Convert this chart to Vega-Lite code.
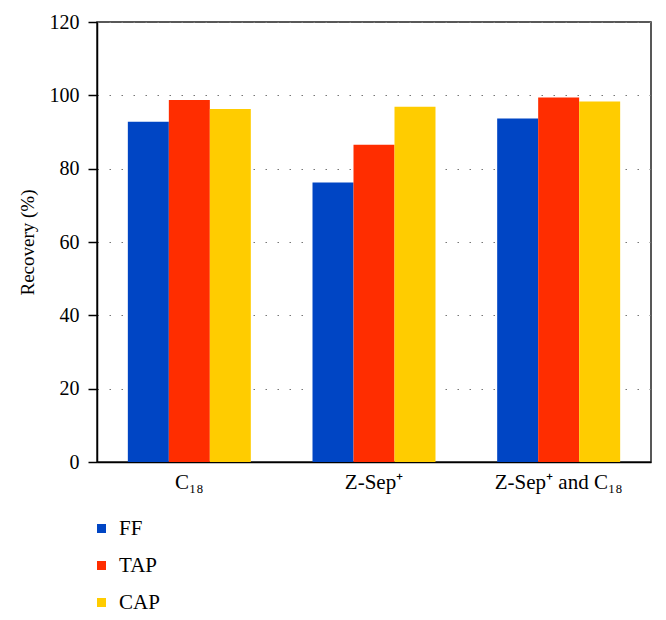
{
  "$schema": "https://vega.github.io/schema/vega-lite/v6.json",
  "width": 554,
  "height": 440,
  "autosize": {"type": "none"},
  "padding": {"left": 97, "top": 22, "right": 15, "bottom": 158},
  "data": {
    "values": [
      {"group": "C₁₈", "method": "FF", "value": 92.8},
      {"group": "C₁₈", "method": "TAP", "value": 98.7},
      {"group": "C₁₈", "method": "CAP", "value": 96.3},
      {"group": "Z-Sep⁺", "method": "FF", "value": 76.2},
      {"group": "Z-Sep⁺", "method": "TAP", "value": 86.5},
      {"group": "Z-Sep⁺", "method": "CAP", "value": 96.9},
      {"group": "Z-Sep⁺ and C₁₈", "method": "FF", "value": 93.7},
      {"group": "Z-Sep⁺ and C₁₈", "method": "TAP", "value": 99.4},
      {"group": "Z-Sep⁺ and C₁₈", "method": "CAP", "value": 98.3}
    ]
  },
  "mark": {"type": "bar"},
  "encoding": {
    "x": {
      "field": "group",
      "type": "nominal",
      "sort": ["C₁₈", "Z-Sep⁺", "Z-Sep⁺ and C₁₈"],
      "scale": {"paddingInner": 0.334, "paddingOuter": 0.167},
      "axis": {
        "title": null,
        "labelAngle": 0,
        "ticks": false,
        "labelFontSize": 21,
        "labelPadding": 9,
        "labelColor": "#000",
        "domainColor": "#000",
        "domainWidth": 1.5
      }
    },
    "xOffset": {"field": "method", "type": "nominal", "sort": ["FF", "TAP", "CAP"], "scale": {"paddingInner": 0, "paddingOuter": 0}},
    "y": {
      "field": "value",
      "type": "quantitative",
      "scale": {"domain": [0, 120], "nice": false},
      "axis": {
        "values": [0, 20, 40, 60, 80, 100, 120],
        "title": "Recovery (%)",
        "titleFontSize": 19,
        "titleFontWeight": "normal",
        "titleColor": "#000",
        "titlePadding": 12,
        "labelFontSize": 20,
        "labelColor": "#000",
        "labelPadding": 9,
        "tickSize": 9,
        "tickColor": "#000",
        "tickWidth": 1.5,
        "domainColor": "#000",
        "domainWidth": 1.5,
        "grid": true,
        "gridColor": "#777",
        "gridDash": [1.5, 10.5],
        "gridWidth": 1.2
      }
    },
    "color": {
      "field": "method",
      "type": "nominal",
      "scale": {"domain": ["FF", "TAP", "CAP"], "range": ["#0045C4", "#FF2D00", "#FFCC00"]},
      "legend": {
        "title": null,
        "orient": "none",
        "legendX": -6,
        "legendY": 496,
        "direction": "vertical",
        "symbolType": "square",
        "symbolSize": 81,
        "symbolStrokeWidth": 0,
        "labelFontSize": 21,
        "labelColor": "#000",
        "labelOffset": 7,
        "rowPadding": 15
      }
    }
  },
  "config": {
    "font": "Liberation Serif",
    "view": {"stroke": "#222", "strokeWidth": 1.5}
  }
}
